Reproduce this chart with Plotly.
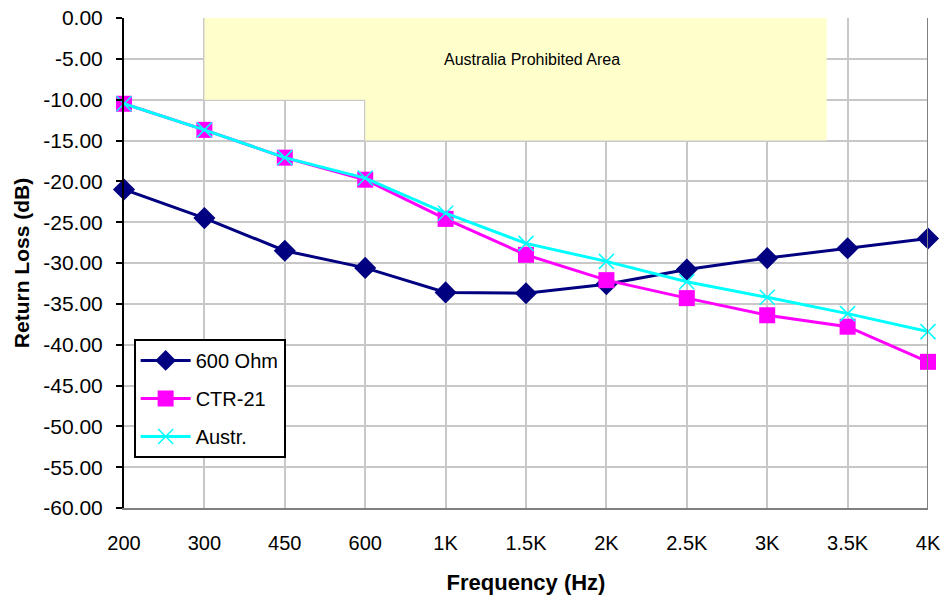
import plotly.graph_objects as go

categories = ["200", "300", "450", "600", "1K", "1.5K", "2K", "2.5K", "3K", "3.5K", "4K"]
ohm600 = [-21.0, -24.5, -28.5, -30.6, -33.6, -33.7, -32.6, -30.8, -29.4, -28.2, -27.0]
ctr21 = [-10.5, -13.7, -17.1, -19.8, -24.6, -29.0, -32.1, -34.3, -36.4, -37.8, -42.1]
austr = [-10.5, -13.7, -17.1, -19.6, -23.9, -27.6, -29.8, -32.3, -34.2, -36.2, -38.4]

# prohibited region outline (category-index x, dB y)
area_x = [1, 1, 3, 3, 8.74, 8.74]
area_y = [0, -10, -10, -15, -15, 0]

y_ticks = list(range(0, -65, -5))
y_tick_labels = ["%.2f" % v for v in y_ticks]

FONT = "Arial, 'Liberation Sans', sans-serif"
xi = list(range(len(categories)))

fig = go.Figure()
fig.add_trace(go.Scatter(x=area_x, y=area_y, fill="toself", fillcolor="#ffffcc",
                         line=dict(width=0), mode="lines", showlegend=False,
                         hoverinfo="skip"))
fig.add_trace(go.Scatter(x=xi, y=ohm600, name="600 Ohm", mode="lines+markers",
                         line=dict(color="#000080", width=3),
                         marker=dict(symbol="diamond", size=17, color="#000080"),
                         cliponaxis=False, legendgroup="a"))
fig.add_trace(go.Scatter(x=xi, y=ctr21, name="CTR-21", mode="lines+markers",
                         line=dict(color="#ff00ff", width=3),
                         marker=dict(symbol="square", size=16, color="#ff00ff"),
                         cliponaxis=False, legendgroup="b"))
fig.add_trace(go.Scatter(x=xi, y=austr, name="Austr.", mode="lines+markers",
                         line=dict(color="#00ffff", width=3),
                         marker=dict(symbol="x-thin-open", size=15,
                                     line=dict(color="#33ccff", width=1.5)),
                         cliponaxis=False, legendgroup="c"))

fig.add_annotation(x=5.07, y=-5.1, text="Australia Prohibited Area", showarrow=False,
                   font=dict(family=FONT, size=16, color="black"))

fig.add_shape(type="line", xref="x", yref="y", x0=10, x1=10, y0=-60, y1=0,
              line=dict(color="#808080", width=2))

fig.update_layout(
    width=947, height=601,
    margin=dict(l=124, r=19, t=18, b=93),
    paper_bgcolor="white", plot_bgcolor="white",
    font=dict(family=FONT, size=21, color="black"),
    hovermode=False,
    showlegend=True,
    legend=dict(x=0.012, y=0.345, xanchor="left", yanchor="top",
                bgcolor="white", bordercolor="black", borderwidth=2,
                font=dict(family=FONT, size=20), tracegroupgap=9,
                itemwidth=50),
    xaxis=dict(range=[0, 10], tickvals=xi, ticktext=categories, automargin=False,
               showgrid=True, gridcolor="#c8c8c8", gridwidth=2,
               zeroline=False, showline=True, linecolor="#808080", linewidth=2,
               ticks="", ticklabelstandoff=16, tickfont=dict(size=20),
               ticklabeloverflow="allow",
               title=dict(text="<b>Frequency (Hz)</b>", font=dict(size=22), standoff=22)),
    xaxis2=dict(range=[0, 10], overlaying="x", side="top", anchor="y", automargin=False,
                tickvals=[k * 0.5 for k in range(21)], ticks="inside", ticklen=5,
                tickcolor="black", tickwidth=2, showticklabels=False,
                showgrid=False, zeroline=False, showline=True, linecolor="black",
                linewidth=2, layer="below traces"),
    yaxis=dict(range=[-60, 0], tickvals=y_ticks, ticktext=y_tick_labels, automargin=False,
               showgrid=True, gridcolor="#c8c8c8", gridwidth=2,
               zeroline=False, showline=True, linecolor="black", linewidth=2,
               ticks="outside", ticklen=6, tickcolor="black", tickwidth=2,
               ticklabelstandoff=9, tickfont=dict(size=21),
               ticklabeloverflow="allow",
               title=dict(text="<b>Return Loss (dB)</b>", font=dict(size=21), standoff=8)),
)

fig.write_html("out.html", config={"displayModeBar": False},
               post_script="document.body.style.margin='0';")
